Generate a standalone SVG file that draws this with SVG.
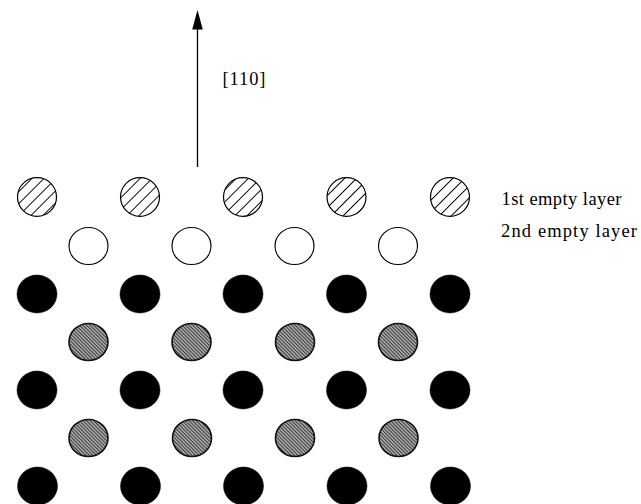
<svg xmlns="http://www.w3.org/2000/svg" width="641" height="504" viewBox="0 0 641 504">
  <defs>
    <pattern id="hatch" patternUnits="userSpaceOnUse" width="8.5" height="8.5" patternTransform="rotate(-45)">
      <rect width="8.5" height="8.5" fill="#fff"/>
      <line x1="0" y1="4.25" x2="8.5" y2="4.25" stroke="#000" stroke-width="1"/>
    </pattern>
    <pattern id="stipple" patternUnits="userSpaceOnUse" width="2.5" height="2.5" patternTransform="rotate(45)">
      <rect width="2.5" height="2.5" fill="#b0b0b0"/>
      <line x1="0" y1="1.25" x2="2.5" y2="1.25" stroke="#333" stroke-width="1"/>
    </pattern>
  </defs>
  <style>
    .hatched { fill: url(#hatch); stroke: #000; stroke-width: 1.2; }
    .empty { fill: #fff; stroke: #000; stroke-width: 1.2; }
    .black { fill: #000; stroke: #000; stroke-width: 0.5; }
    .gray { fill: url(#stipple); stroke: #111; stroke-width: 1.6; }
    .lbl { font-family: "Liberation Serif", "Times New Roman", serif; font-size: 18.5px; fill: #000; }
  </style>
  <rect width="641" height="504" fill="#fff"/>

  <g id="connectors">
    <line x1="197.5" y1="167" x2="197.5" y2="26" stroke="#000" stroke-width="1.3"/>
    <polygon points="197.5,10 192.2,29.5 202.8,29.5" fill="#000"/>
    <text class="lbl" x="222.5" y="84.5" font-size="19" textLength="43" lengthAdjust="spacing">[110]</text>
  </g>

  <g id="layer1-label"><text class="lbl" x="501.5" y="205" textLength="120" lengthAdjust="spacing">1st empty layer</text></g>
  <g id="layer2-label"><text class="lbl" x="501" y="236.5" textLength="136" lengthAdjust="spacing">2nd empty layer</text></g>

  <g id="row1-hatched">
    <g id="h1"><ellipse class="hatched" cx="37" cy="197" rx="19.5" ry="19.3"/></g>
    <g id="h2"><ellipse class="hatched" cx="140" cy="197" rx="19.5" ry="19.3"/></g>
    <g id="h3"><ellipse class="hatched" cx="243" cy="197" rx="19.5" ry="19.3"/></g>
    <g id="h4"><ellipse class="hatched" cx="346.5" cy="197" rx="19.5" ry="19.3"/></g>
    <g id="h5"><ellipse class="hatched" cx="450" cy="197" rx="19.5" ry="19.3"/></g>
  </g>

  <g id="row2-empty">
    <g id="e1"><ellipse class="empty" cx="88.5" cy="246" rx="19.5" ry="18.5"/></g>
    <g id="e2"><ellipse class="empty" cx="191.5" cy="246" rx="19.5" ry="18.5"/></g>
    <g id="e3"><ellipse class="empty" cx="294.5" cy="246" rx="19.5" ry="18.5"/></g>
    <g id="e4"><ellipse class="empty" cx="398" cy="246" rx="19.5" ry="18.5"/></g>
  </g>

  <g id="row3-black">
    <g id="b1"><ellipse class="black" cx="37" cy="294" rx="20" ry="19"/></g>
    <g id="b2"><ellipse class="black" cx="140" cy="294" rx="20" ry="19"/></g>
    <g id="b3"><ellipse class="black" cx="243" cy="294" rx="20" ry="19"/></g>
    <g id="b4"><ellipse class="black" cx="346.5" cy="294" rx="20" ry="19"/></g>
    <g id="b5"><ellipse class="black" cx="450" cy="294" rx="20" ry="19"/></g>
  </g>

  <g id="row4-gray">
    <g id="g1"><ellipse class="gray" cx="88.5" cy="342" rx="19.5" ry="18.5"/></g>
    <g id="g2"><ellipse class="gray" cx="191.5" cy="342" rx="19.5" ry="18.5"/></g>
    <g id="g3"><ellipse class="gray" cx="295" cy="342" rx="19.5" ry="18.5"/></g>
    <g id="g4"><ellipse class="gray" cx="398" cy="342" rx="19.5" ry="18.5"/></g>
  </g>

  <g id="row5-black">
    <g id="b6"><ellipse class="black" cx="37" cy="390" rx="20" ry="19"/></g>
    <g id="b7"><ellipse class="black" cx="140" cy="390" rx="20" ry="19"/></g>
    <g id="b8"><ellipse class="black" cx="243" cy="390" rx="20" ry="19"/></g>
    <g id="b9"><ellipse class="black" cx="346.5" cy="390" rx="20" ry="19"/></g>
    <g id="b10"><ellipse class="black" cx="450" cy="390" rx="20" ry="19"/></g>
  </g>

  <g id="row6-gray">
    <g id="g5"><ellipse class="gray" cx="88.5" cy="438" rx="19.5" ry="18.5"/></g>
    <g id="g6"><ellipse class="gray" cx="192" cy="438" rx="19.5" ry="18.5"/></g>
    <g id="g7"><ellipse class="gray" cx="295" cy="438" rx="19.5" ry="18.5"/></g>
    <g id="g8"><ellipse class="gray" cx="398.5" cy="438" rx="19.5" ry="18.5"/></g>
  </g>

  <g id="row7-black">
    <g id="b11"><ellipse class="black" cx="37.5" cy="486" rx="20" ry="19"/></g>
    <g id="b12"><ellipse class="black" cx="140.5" cy="486" rx="20" ry="19"/></g>
    <g id="b13"><ellipse class="black" cx="243.5" cy="486" rx="20" ry="19"/></g>
    <g id="b14"><ellipse class="black" cx="347" cy="486" rx="20" ry="19"/></g>
    <g id="b15"><ellipse class="black" cx="450.5" cy="486" rx="20" ry="19"/></g>
  </g>
</svg>
